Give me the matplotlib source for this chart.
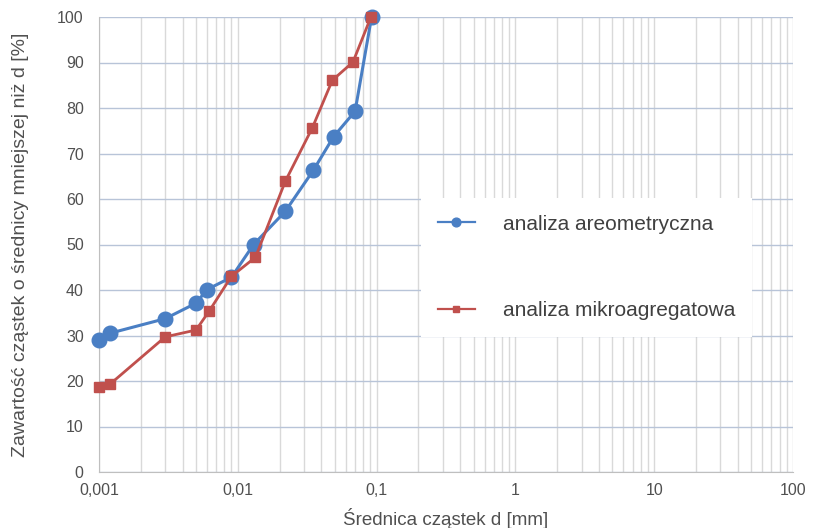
import matplotlib
matplotlib.use("Agg")
import matplotlib.pyplot as plt
from matplotlib.ticker import FixedLocator, LogLocator, NullFormatter

plt.rcParams['font.family'] = ['Liberation Sans', 'DejaVu Sans']

# data
x_areo = [0.001, 0.0012, 0.003, 0.005, 0.006, 0.009, 0.013, 0.022, 0.035, 0.049, 0.07, 0.092]
y_areo = [29.1, 30.5, 33.7, 37.1, 40.1, 42.8, 50.0, 57.3, 66.3, 73.7, 79.3, 100.0]
x_mikro = [0.001, 0.0012, 0.003, 0.005, 0.0062, 0.009, 0.0134, 0.022, 0.0345, 0.048, 0.0676, 0.091]
y_mikro = [18.6, 19.3, 29.7, 31.2, 35.3, 43.0, 47.2, 63.9, 75.7, 86.1, 90.1, 100.0]
x_ticks = [0.001, 0.01, 0.1, 1, 10, 100]
x_ticklabels = ["0,001", "0,01", "0,1", "1", "10", "100"]
y_ticks = list(range(0, 101, 10))

blue = "#4a7fc4"
red = "#c0504d"

fig = plt.figure(figsize=(8.14, 5.28), dpi=100)
ax = fig.add_axes([99/814, 1 - 472/528, (793-99)/814, (472-17)/528])

ax.plot(x_areo, y_areo, color=blue, lw=2.2, marker='o', ms=10.5, mec=blue, mfc=blue,
        label="analiza areometryczna", zorder=3, clip_on=False)
ax.plot(x_mikro, y_mikro, color=red, lw=2.0, marker='s', ms=7, mec=red, mfc=red,
        label="analiza mikroagregatowa", zorder=4, clip_on=False)

ax.set_xscale('log')
ax.set_xlim(0.001, 100)
ax.set_ylim(0, 100)
ax.xaxis.set_major_locator(FixedLocator(x_ticks))
ax.set_xticklabels(x_ticklabels)
ax.xaxis.set_minor_locator(LogLocator(base=10, subs=range(2, 10), numticks=20))
ax.xaxis.set_minor_formatter(NullFormatter())
ax.set_yticks(y_ticks)

ax.grid(True, which='major', axis='y', color='#b8c4d8', lw=1.0)
ax.grid(True, which='both', axis='x', color='#d9d9d9', lw=1.0)
ax.set_axisbelow(True)
for s in ['top', 'right']:
    ax.spines[s].set_visible(False)
ax.spines['bottom'].set_color('#bfbfbf')
ax.spines['left'].set_color('#bfbfbf')
ax.tick_params(axis='y', which='both', length=0, labelsize=11.5, colors='#505050', pad=11)
ax.tick_params(axis='x', which='both', length=0, labelsize=11.5, colors='#505050', pad=8)

ax.set_xlabel("Średnica cząstek d [mm]", fontsize=13.5, color='#505050', labelpad=7)
ax.set_ylabel("Zawartość cząstek o średnicy mniejszej niż d [%]", fontsize=14, color='#505050', labelpad=20)

leg = ax.legend(loc='upper left', bbox_to_anchor=(421/814, 1 - 198/528), bbox_transform=fig.transFigure,
                borderaxespad=0, frameon=True, facecolor='white', edgecolor='none', fancybox=False,
                framealpha=1, fontsize=15, labelspacing=3.25, handlelength=1.8, handletextpad=1.35,
                borderpad=0.8, markerscale=0.6, labelcolor='#404040')
for h in leg.legend_handles:
    h.set_linewidth(1.6)

fig.savefig("out.png", dpi=100, facecolor='white')
